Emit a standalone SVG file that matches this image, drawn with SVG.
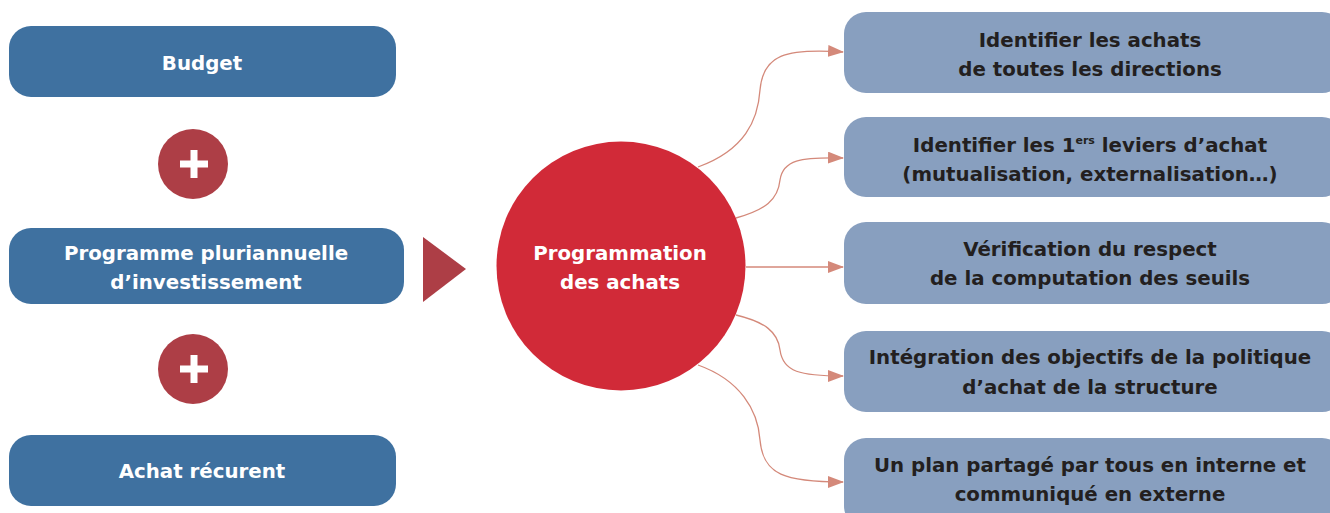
<svg xmlns="http://www.w3.org/2000/svg" width="1330" height="513" viewBox="0 0 1330 513">
<style>
.lb{fill:#3f71a0}
.rb{fill:#889fbf}
.lt{font-family:"DejaVu Sans",Verdana,sans-serif;font-weight:bold;font-size:19.8px;fill:#ffffff;text-anchor:middle}
.rt{font-family:"DejaVu Sans",Verdana,sans-serif;font-weight:bold;font-size:19.8px;fill:#231f20;text-anchor:middle}
.plus{fill:#ad3e46}
.con{fill:none;stroke:#d4897a;stroke-width:1.3}
</style>
<defs>
<marker id="ah" markerWidth="16" markerHeight="12" refX="15" refY="6" orient="auto" markerUnits="userSpaceOnUse">
<path d="M0,0 L16,6 L0,12 Z" fill="#d4897a"/>
</marker>
</defs>
<rect width="1330" height="513" fill="#ffffff"/>
<g id="budget"><rect class="lb" x="9" y="26" width="387" height="71" rx="22"/><text class="lt" x="202" y="70">Budget</text></g>
<g id="plus1"><circle class="plus" cx="193" cy="164" r="35"/><rect x="180" y="160.5" width="28" height="7" fill="#fff"/><rect x="190.5" y="150" width="7" height="28" fill="#fff"/></g>
<g id="programme"><rect class="lb" x="9" y="228" width="395" height="76" rx="22"/><text class="lt" x="206" y="260">Programme pluriannuelle</text><text class="lt" x="206" y="289">d’investissement</text></g>
<g id="plus2"><circle class="plus" cx="193" cy="369" r="35"/><rect x="180" y="365.5" width="28" height="7" fill="#fff"/><rect x="190.5" y="355" width="7" height="28" fill="#fff"/></g>
<g id="achat"><rect class="lb" x="9" y="435" width="387" height="71" rx="22"/><text class="lt" x="202" y="478">Achat récurent</text></g>
<g id="triangle"><polygon points="423,237 466,269 423,302" fill="#ad3e46"/></g>
<g id="center"><circle cx="621" cy="266" r="124.5" fill="#d12a38"/><text class="lt" x="620" y="260">Programmation</text><text class="lt" x="620" y="289">des achats</text></g>
<g id="connectors">
<path class="con" d="M698,167 C745,150 758,120 760,90 C763,55 785,48 843,52" marker-end="url(#ah)"/>
<path class="con" d="M736,218 C765,210 778,200 780,180 C783,160 800,157 843,158" marker-end="url(#ah)"/>
<path class="con" d="M746,267 L843,267" marker-end="url(#ah)"/>
<path class="con" d="M736,315 C765,322 778,332 780,350 C783,372 800,376 843,376" marker-end="url(#ah)"/>
<path class="con" d="M698,365 C740,380 758,410 760,440 C763,475 785,482 843,482" marker-end="url(#ah)"/>
</g>
<g id="r1"><rect class="rb" x="844" y="12" width="500" height="81" rx="22"/><text class="rt" x="1090" y="47">Identifier les achats</text><text class="rt" x="1090" y="76">de toutes les directions</text></g>
<g id="r2"><rect class="rb" x="844" y="117" width="500" height="80" rx="22"/><text class="rt" x="1090" y="152">Identifier les 1<tspan font-size="11" dy="-8">ers</tspan><tspan dy="8"> leviers d’achat</tspan></text><text class="rt" x="1090" y="181">(mutualisation, externalisation…)</text></g>
<g id="r3"><rect class="rb" x="844" y="222" width="500" height="82" rx="22"/><text class="rt" x="1090" y="256">Vérification du respect</text><text class="rt" x="1090" y="285">de la computation des seuils</text></g>
<g id="r4"><rect class="rb" x="844" y="331" width="500" height="81" rx="22"/><text class="rt" x="1090" y="364">Intégration des objectifs de la politique</text><text class="rt" x="1090" y="394">d’achat de la structure</text></g>
<g id="r5"><rect class="rb" x="844" y="438" width="500" height="90" rx="22"/><text class="rt" x="1090" y="472">Un plan partagé par tous en interne et</text><text class="rt" x="1090" y="501">communiqué en externe</text></g>
</svg>
